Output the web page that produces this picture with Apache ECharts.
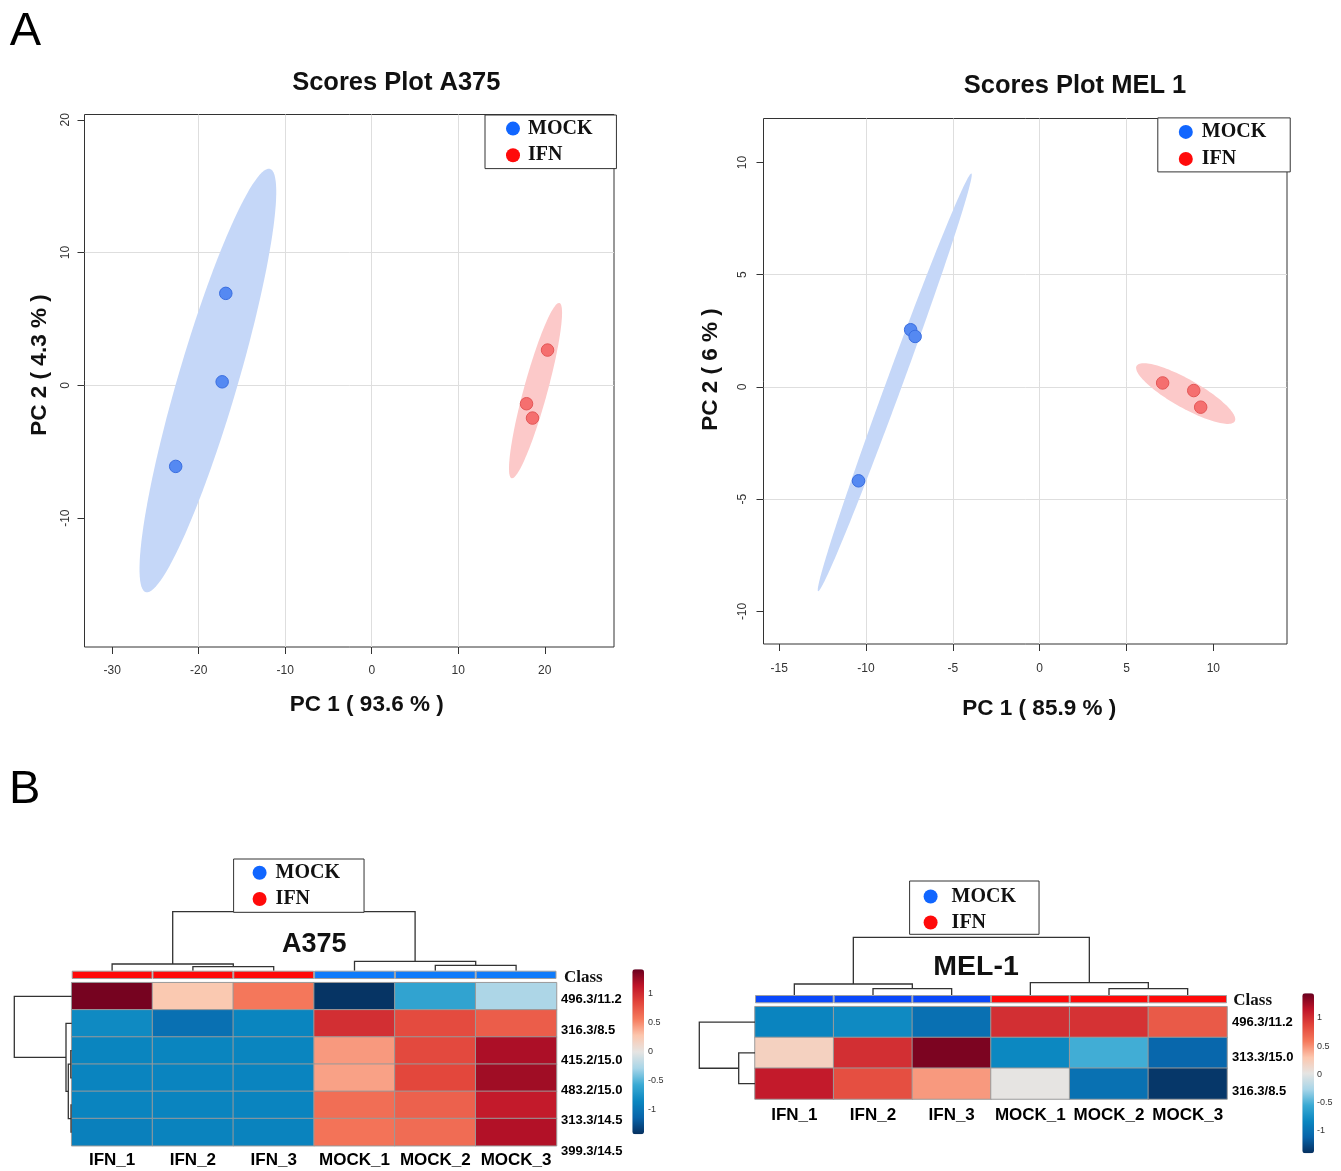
<!DOCTYPE html>
<html><head><meta charset="utf-8">
<script src="https://cdn.jsdelivr.net/npm/echarts@6/dist/echarts.min.js"></script>
<style>html,body{margin:0;padding:0;background:#fff}#c{width:1341px;height:1171px}</style>
</head><body><div id="c"></div>
<script>
// ---------------- data ----------------
// PCA scores (PC1, PC2)
const a375MockPts = [[-16.87, 6.93], [-17.29, 0.27], [-22.66, -6.10]];
const a375IfnPts  = [[20.32, 2.66], [17.89, -1.38], [18.58, -2.46]];
const mel1MockPts = [[-7.43, 2.55], [-7.17, 2.25], [-10.43, -4.18]];
const mel1IfnPts  = [[7.08, 0.18], [8.87, -0.16], [9.27, -0.90]];

// tick labels
const a375XTicks = [-30, -20, -10, 0, 10, 20];
const a375YTicks = [-10, 0, 10, 20];
const mel1XTicks = [-15, -10, -5, 0, 5, 10];
const mel1YTicks = [-10, -5, 0, 5, 10];

// heatmaps
const sampleNames = ['IFN_1', 'IFN_2', 'IFN_3', 'MOCK_1', 'MOCK_2', 'MOCK_3'];
const a375Features = ['496.3/11.2', '316.3/8.5', '415.2/15.0', '483.2/15.0', '313.3/14.5', '399.3/14.5'];
const a375Values = [
  [1.38, 0.26, 0.58, -1.40, -0.62, -0.26],
  [-0.82, -1.03, -0.86, 0.98, 0.82, 0.72],
  [-0.86, -0.86, -0.86, 0.45, 0.83, 1.20],
  [-0.87, -0.87, -0.87, 0.42, 0.84, 1.24],
  [-0.87, -0.87, -0.87, 0.63, 0.70, 1.10],
  [-0.90, -0.88, -0.88, 0.60, 0.64, 1.18]
];
const a375Classes = ['IFN', 'IFN', 'IFN', 'MOCK', 'MOCK', 'MOCK'];
const mel1Features = ['496.3/11.2', '313.3/15.0', '316.3/8.5'];
const mel1Values = [
  [-0.87, -0.82, -1.03, 0.98, 0.96, 0.74],
  [0.18, 0.98, 1.36, -0.84, -0.55, -1.10],
  [1.10, 0.80, 0.45, 0.00, -1.02, -1.38]
];
const mel1Classes = ['MOCK', 'MOCK', 'MOCK', 'IFN', 'IFN', 'IFN'];
const scaleRange = [-1.42, 1.42];

// dendrograms: [posA, posB, mergeHeight, childHeightA, childHeightB]
const a375ColTree = [[1.5, 2.5, 4, 0, 0], [0.5, 2.0, 6.7, 0, 4], [4.5, 5.5, 5.4, 0, 0], [3.5, 5.0, 9.4, 0, 5.4], [1.25, 4.25, 59, 6.7, 9.4]];
const a375RowTree = [[2.5, 3.5, 0.9, 0, 0], [4.5, 5.5, 0.7, 0, 0], [3.0, 5.0, 3.4, 0.9, 0.7], [1.5, 4.0, 5.7, 0, 3.4], [0.5, 2.75, 57.4, 0, 5.7]];
const mel1ColTree = [[1.5, 2.5, 6.3, 0, 0], [0.5, 2.0, 11, 0, 6.3], [4.5, 5.5, 6.3, 0, 0], [3.5, 5.0, 12.3, 0, 6.3], [1.25, 4.25, 57.7, 11, 12.3]];
const mel1RowTree = [[1.5, 2.5, 16.3, 0, 0], [0.5, 2.0, 55.7, 0, 16.3]];

// ---------------- styles ----------------
const heatColors = ['#06305f', '#0863a9', '#0a86c0', '#3aaad4', '#a8d5e8', '#e6e4e2', '#fcc6ad', '#f5795c', '#e2453b', '#bf1429', '#6a001f'];
const classColorA375 = { IFN: '#ff0a0a', MOCK: '#0f7bfa' };
const classColorMel1 = { IFN: '#ff0a0a', MOCK: '#0a48fb' };
const SANS = 'Liberation Sans';
const SERIF = 'Liberation Serif';

// 95% confidence ellipse (as in R ellipse::ellipse, t = sqrt(qchisq(.95,2)))
function ellipse95(pts) {
  const n = pts.length;
  const mx = pts.reduce((s, p) => s + p[0], 0) / n;
  const my = pts.reduce((s, p) => s + p[1], 0) / n;
  let sxx = 0, syy = 0, sxy = 0;
  pts.forEach(p => { sxx += (p[0] - mx) ** 2; syy += (p[1] - my) ** 2; sxy += (p[0] - mx) * (p[1] - my); });
  sxx /= (n - 1); syy /= (n - 1); sxy /= (n - 1);
  const sx = Math.sqrt(sxx), sy = Math.sqrt(syy);
  const d = Math.acos(Math.max(-1, Math.min(1, sxy / (sx * sy))));
  const t = Math.sqrt(5.991464547);
  const out = [];
  for (let i = 0; i < 120; i++) {
    const a = 2 * Math.PI * i / 120;
    out.push([mx + t * sx * Math.cos(a + d / 2), my + t * sy * Math.cos(a - d / 2)]);
  }
  return { poly: out, center: [mx, my] };
}

function ellipseSeries(pts, fill, idx) {
  const e = ellipse95(pts);
  return {
    type: 'custom', xAxisIndex: idx, yAxisIndex: idx, silent: true, z: 1, clip: true,
    data: [e.center], encode: { x: 0, y: 1 },
    renderItem: (params, api) => ({
      type: 'polygon',
      shape: { points: e.poly.map(p => api.coord(p)) },
      style: { fill: fill, stroke: 'none' }
    })
  };
}

function scatterSeries(name, pts, color, border, idx) {
  return {
    type: 'scatter', name: name, xAxisIndex: idx, yAxisIndex: idx, z: 3,
    data: pts, symbol: 'circle', symbolSize: 12.5,
    itemStyle: { color: color, borderColor: border, borderWidth: 1, opacity: 1 },
    emphasis: { disabled: true }
  };
}

function treeSeries(tree, idx, top) {
  return {
    type: 'custom', xAxisIndex: idx, yAxisIndex: idx, silent: true, clip: false,
    data: tree, encode: top ? { x: [0, 1], y: [2, 3, 4] } : { x: [2, 3, 4], y: [0, 1] },
    renderItem: (params, api) => {
      const a = api.value(0), b = api.value(1), h = api.value(2), ha = api.value(3), hb = api.value(4);
      const pts = top ? [[a, ha], [a, h], [b, h], [b, hb]] : [[ha, a], [h, a], [h, b], [hb, b]];
      return { type: 'polyline', shape: { points: pts.map(p => api.coord(p)) }, style: { stroke: '#333', lineWidth: 1.3, fill: 'none' } };
    }
  };
}

function heatData(values) {
  const out = [];
  values.forEach((row, r) => row.forEach((v, c) => out.push([c, r, v])));
  return out;
}

function legendBox(left, top, pad, gap, textPad) {
  return {
    show: true, orient: 'vertical', left: left, top: top, padding: pad, itemGap: gap,
    itemWidth: 14, itemHeight: 14, selectedMode: false,
    backgroundColor: '#fff', borderColor: '#333', borderWidth: 1, z: 10,
    textStyle: { fontFamily: SERIF, fontWeight: 'bold', fontSize: 20, color: '#111', padding: [0, 0, 0, textPad] },
    data: [
      { name: 'MOCK', icon: 'circle', itemStyle: { color: '#1166ff', borderWidth: 0 } },
      { name: 'IFN', icon: 'circle', itemStyle: { color: '#ff0a0a', borderWidth: 0 } }
    ]
  };
}

const hidden = (gi, extra) => Object.assign({ gridIndex: gi, show: false, type: 'value' }, extra || {});

function scatterXAxis(gi, min, max, ticks, name, gap, padL, margin) {
  return {
    gridIndex: gi, type: 'value', min: min, max: max,
    axisLine: { show: false, onZero: false },
    axisTick: { show: true, inside: false, length: 7, customValues: ticks, lineStyle: { color: '#333' } },
    axisLabel: { customValues: ticks, margin: margin, fontSize: 12, color: '#333', fontFamily: SANS },
    splitLine: { show: true, showMinLine: false, showMaxLine: false, lineStyle: { color: '#dedede', width: 1 } },
    name: name, nameLocation: 'middle', nameGap: gap,
    nameTextStyle: { fontSize: 22.5, fontWeight: 'bold', color: '#111', fontFamily: SANS, padding: [0, 0, 0, padL] }
  };
}
function scatterYAxis(gi, min, max, ticks, name, gap, padL, margin) {
  return {
    gridIndex: gi, type: 'value', min: min, max: max,
    axisLine: { show: false, onZero: false },
    axisTick: { show: true, inside: false, length: 7, customValues: ticks, lineStyle: { color: '#333' } },
    axisLabel: { customValues: ticks, rotate: 90, margin: margin, fontSize: 12, color: '#333', fontFamily: SANS },
    splitLine: { show: true, showMinLine: false, showMaxLine: false, lineStyle: { color: '#dedede', width: 1 } },
    name: name, nameLocation: 'middle', nameGap: gap,
    nameTextStyle: { fontSize: 22.5, fontWeight: 'bold', color: '#111', fontFamily: SANS, padding: [0, 0, 0, padL] }
  };
}

const g = (left, top, width, height, extra) => Object.assign({ left, top, width, height, containLabel: false, outerBoundsMode: 'none', show: false }, extra || {});

const grids = [
  g(84.5, 114.5, 529.5, 532.5, { show: true, borderColor: '#333', borderWidth: 1, backgroundColor: 'transparent' }), // 0
  g(763.5, 118.5, 523.5, 525.5, { show: true, borderColor: '#333', borderWidth: 1, backgroundColor: 'transparent' }), // 1
  g(71.7, 982.7, 484.8, 163),   // 2 heat A375
  g(71.7, 970.7, 484.8, 8.3),   // 3 class A375
  g(71.7, 910.7, 484.8, 60),    // 4 col tree A375
  g(14, 982.7, 57.7, 163),      // 5 row tree A375
  g(556, 984.55, 1, 181.8),     // 6 row labels A375
  g(633, 964.85, 12, 173.7),    // 7 scale labels A375
  g(755, 1006.7, 472, 92.3),    // 8 heat MEL1
  g(755, 995, 472, 8.3),        // 9 class MEL1
  g(755, 935, 472, 60),         // 10 col tree MEL1
  g(699, 1006.7, 56, 92.3),     // 11 row tree MEL1
  g(1226, 1004.95, 1, 104.1),   // 12 row labels MEL1
  g(1302, 989.5, 12, 169.6)     // 13 scale labels MEL1
];

const heatX = (gi, margin) => ({
  gridIndex: gi, type: 'category', data: sampleNames,
  axisLine: { show: false }, axisTick: { show: false }, splitLine: { show: false },
  axisLabel: { interval: 0, margin: margin, fontSize: 17, fontWeight: 'bold', color: '#000', fontFamily: SANS, hideOverlap: false }
});
const catHidden = (gi) => ({ gridIndex: gi, type: 'category', data: sampleNames, show: false });
const labelY = (gi, data, margin) => ({
  gridIndex: gi, type: 'category', data: data, inverse: true, position: 'right',
  axisLine: { show: false }, axisTick: { show: false }, splitLine: { show: false },
  axisLabel: { interval: 0, margin: margin, fontSize: 13, fontWeight: 'bold', color: '#000', fontFamily: SANS, align: 'left' }
});
const scaleY = (gi) => ({
  gridIndex: gi, type: 'value', min: -1.5, max: 1.5, interval: 0.5, position: 'right',
  axisLine: { show: false }, axisTick: { show: false }, splitLine: { show: false },
  axisLabel: { margin: 3, fontSize: 9, color: '#333', fontFamily: SANS, showMinLabel: false, showMaxLabel: false }
});

const xAxes = [
  scatterXAxis(0, -33.2, 28.0, a375XTicks, 'PC 1 ( 93.6 % )', 46, 35, 18),
  scatterXAxis(1, -15.9, 14.24, mel1XTicks, 'PC 1 ( 85.9 % )', 53.6, 28, 19),
  heatX(2, 6.5),
  catHidden(3),
  hidden(4, { min: 0, max: 6 }),
  hidden(5, { min: 0, max: 57.7, inverse: true }),
  hidden(6, { min: 0, max: 1 }),
  hidden(7, { min: 0, max: 1 }),
  heatX(8, 7.5),
  catHidden(9),
  hidden(10, { min: 0, max: 6 }),
  hidden(11, { min: 0, max: 56, inverse: true }),
  hidden(12, { min: 0, max: 1 }),
  hidden(13, { min: 0, max: 1 })
];
const yAxes = [
  scatterYAxis(0, -19.7, 20.4, a375YTicks, 'PC 2 ( 4.3 % )', 33.7, 31.5, 13),
  scatterYAxis(1, -11.45, 11.96, mel1YTicks, 'PC 2 ( 6 % )', 41.7, 23.5, 14.5),
  { gridIndex: 2, type: 'category', data: a375Features, inverse: true, show: false },
  hidden(3, { min: 0, max: 1 }),
  hidden(4, { min: 0, max: 60 }),
  hidden(5, { min: 0, max: 6, inverse: true }),
  labelY(6, a375Features, 4),
  scaleY(7),
  { gridIndex: 8, type: 'category', data: mel1Features, inverse: true, show: false },
  hidden(9, { min: 0, max: 1 }),
  hidden(10, { min: 0, max: 60 }),
  hidden(11, { min: 0, max: 3, inverse: true }),
  labelY(12, mel1Features, 5),
  scaleY(13)
];

const series = [
  ellipseSeries(a375MockPts, '#c5d7f8', 0),                     // 0
  ellipseSeries(a375IfnPts, '#fcc9c9', 0),                      // 1
  scatterSeries('MOCK', a375MockPts, '#5589f2', '#3a6ee0', 0),  // 2
  scatterSeries('IFN', a375IfnPts, '#f56f6f', '#e35656', 0),    // 3
  ellipseSeries(mel1MockPts, '#c5d7f8', 1),                     // 4
  ellipseSeries(mel1IfnPts, '#fcc9c9', 1),                      // 5
  scatterSeries('MOCK', mel1MockPts, '#5589f2', '#3a6ee0', 1),  // 6
  scatterSeries('IFN', mel1IfnPts, '#f56f6f', '#e35656', 1),    // 7
  { type: 'heatmap', xAxisIndex: 2, yAxisIndex: 2, data: heatData(a375Values),
    itemStyle: { borderColor: '#9a9a9a', borderWidth: 1 }, emphasis: { disabled: true } }, // 8
  { type: 'bar', xAxisIndex: 3, yAxisIndex: 3, barWidth: '100%', silent: true,
    data: a375Classes.map(c => ({ value: 1, itemStyle: { color: classColorA375[c] } })),
    itemStyle: { borderColor: '#a0a0a0', borderWidth: 1 } }, // 9
  treeSeries(a375ColTree, 4, true),   // 10
  treeSeries(a375RowTree, 5, false),  // 11
  { type: 'heatmap', xAxisIndex: 8, yAxisIndex: 8, data: heatData(mel1Values),
    itemStyle: { borderColor: '#9a9a9a', borderWidth: 1 }, emphasis: { disabled: true } }, // 12
  { type: 'bar', xAxisIndex: 9, yAxisIndex: 9, barWidth: '100%', silent: true,
    data: mel1Classes.map(c => ({ value: 1, itemStyle: { color: classColorMel1[c] } })),
    itemStyle: { borderColor: '#a0a0a0', borderWidth: 1 } }, // 13
  treeSeries(mel1ColTree, 10, true),  // 14
  treeSeries(mel1RowTree, 11, false)  // 15
];

const txt = (x, y, text, font, align, fill) => ({
  type: 'text', x: x, y: y, silent: true,
  style: { text: text, font: font, textAlign: align || 'center', textVerticalAlign: 'middle', fill: fill || '#111' }
});

const option = {
  animation: false,
  backgroundColor: '#fff',
  textStyle: { fontFamily: SANS },
  grid: grids,
  xAxis: xAxes,
  yAxis: yAxes,
  legend: [
    legendBox(485, 115, [3.6, 24, 3.4, 21], 6.6, 3),
    legendBox(1157.8, 117.9, [4, 24, 3, 21], 7, 4),
    legendBox(233.6, 859, [3.7, 24, 3.3, 19], 6.3, 4),
    legendBox(909.6, 881, [5.5, 23, 1.8, 14], 6, 9)
  ],
  visualMap: [
    { type: 'continuous', seriesIndex: 8, min: scaleRange[0], max: scaleRange[1], left: 632.3, top: 969.3,
      itemWidth: 11.7, itemHeight: 165, padding: 0, calculable: false, hoverLink: false,
      inRange: { color: heatColors }, text: null },
    { type: 'continuous', seriesIndex: 12, min: scaleRange[0], max: scaleRange[1], left: 1302.3, top: 993.3,
      itemWidth: 11.7, itemHeight: 160, padding: 0, calculable: false, hoverLink: false,
      inRange: { color: heatColors }, text: null }
  ],
  graphic: [
    txt(25.3, 32, 'A', '47px "Liberation Sans"', 'center', '#000'),
    txt(24.7, 790.5, 'B', '47px "Liberation Sans"', 'center', '#000'),
    txt(396.3, 83, 'Scores Plot A375', 'bold 25.5px "Liberation Sans"'),
    txt(1075, 86, 'Scores Plot MEL 1', 'bold 25.5px "Liberation Sans"'),
    txt(314.2, 945, 'A375', 'bold 27px "Liberation Sans"'),
    txt(976, 967, 'MEL-1', 'bold 28.5px "Liberation Sans"'),
    txt(564, 978, 'Class', 'bold 17px "Liberation Serif"', 'left'),
    txt(1233.3, 1000.5, 'Class', 'bold 17px "Liberation Serif"', 'left')
  ],
  series: series
};

const chart = echarts.init(document.getElementById('c'), null, { renderer: 'canvas' });
chart.setOption(option);
</script>
</body></html>
